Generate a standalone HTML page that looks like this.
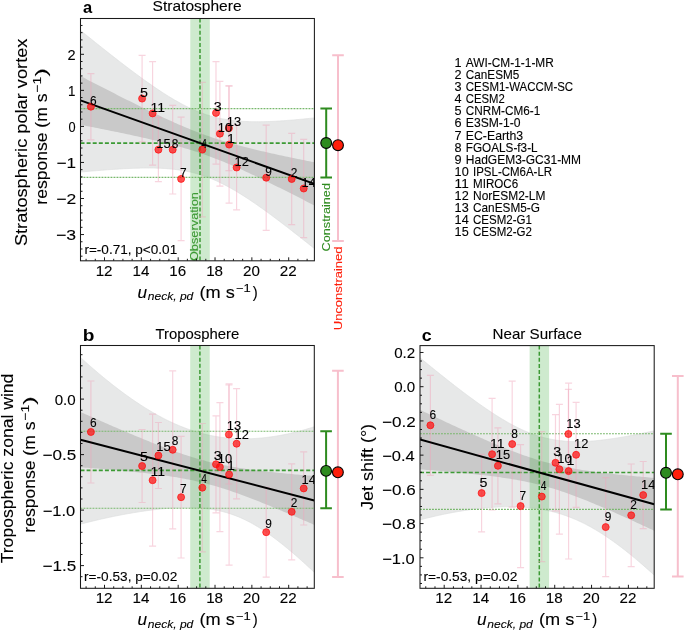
<!DOCTYPE html><html><head><meta charset="utf-8"><style>html,body{margin:0;padding:0;background:#fff;}svg{display:block;will-change:transform;}</style></head><body>
<svg width="685" height="631" viewBox="0 0 685 631" font-family='"Liberation Sans", sans-serif'>
<rect width="685" height="631" fill="#fff"/>
<clipPath id="clipa"><rect x="80.5" y="18.5" width="233.89999999999998" height="242.3"/></clipPath>
<g clip-path="url(#clipa)">
<polygon points="79.50,29.58 81.48,31.19 83.46,32.80 85.45,34.40 87.43,36.01 89.41,37.61 91.39,39.20 93.38,40.80 95.36,42.38 97.34,43.97 99.32,45.55 101.31,47.13 103.29,48.71 105.27,50.28 107.25,51.85 109.24,53.41 111.22,54.97 113.20,56.52 115.18,58.07 117.16,59.61 119.15,61.14 121.13,62.67 123.11,64.20 125.09,65.71 127.08,67.22 129.06,68.72 131.04,70.22 133.02,71.70 135.01,73.18 136.99,74.65 138.97,76.11 140.95,77.56 142.94,78.99 144.92,80.42 146.90,81.83 148.88,83.24 150.86,84.62 152.85,86.00 154.83,87.36 156.81,88.70 158.79,90.03 160.78,91.35 162.76,92.64 164.74,93.91 166.72,95.17 168.71,96.40 170.69,97.62 172.67,98.81 174.65,99.97 176.64,101.12 178.62,102.23 180.60,103.32 182.58,104.38 184.56,105.42 186.55,106.42 188.53,107.39 190.51,108.33 192.49,109.24 194.48,110.12 196.46,110.96 198.44,111.77 200.42,112.55 202.41,113.28 204.39,113.99 206.37,114.66 208.35,115.29 210.34,115.89 212.32,116.46 214.30,116.99 216.28,117.49 218.26,117.95 220.25,118.38 222.23,118.79 224.21,119.16 226.19,119.50 228.18,119.81 230.16,120.09 232.14,120.35 234.12,120.58 236.11,120.79 238.09,120.97 240.07,121.14 242.05,121.28 244.04,121.39 246.02,121.49 248.00,121.57 249.98,121.64 251.96,121.68 253.95,121.71 255.93,121.73 257.91,121.73 259.89,121.71 261.88,121.68 263.86,121.64 265.84,121.59 267.82,121.53 269.81,121.46 271.79,121.37 273.77,121.28 275.75,121.18 277.74,121.06 279.72,120.95 281.70,120.82 283.68,120.68 285.66,120.54 287.65,120.39 289.63,120.24 291.61,120.08 293.59,119.91 295.58,119.74 297.56,119.56 299.54,119.38 301.52,119.19 303.51,119.00 305.49,118.80 307.47,118.60 309.45,118.40 311.44,118.19 313.42,117.98 315.40,117.76 315.40,249.42 313.42,247.83 311.44,246.25 309.45,244.67 307.47,243.09 305.49,241.51 303.51,239.94 301.52,238.37 299.54,236.81 297.56,235.25 295.58,233.70 293.59,232.15 291.61,230.60 289.63,229.06 287.65,227.53 285.66,226.00 283.68,224.48 281.70,222.97 279.72,221.46 277.74,219.96 275.75,218.47 273.77,216.99 271.79,215.52 269.81,214.05 267.82,212.60 265.84,211.16 263.86,209.73 261.88,208.31 259.89,206.90 257.91,205.50 255.93,204.12 253.95,202.76 251.96,201.41 249.98,200.08 248.00,198.76 246.02,197.46 244.04,196.18 242.05,194.92 240.07,193.69 238.09,192.47 236.11,191.28 234.12,190.11 232.14,188.96 230.16,187.85 228.18,186.76 226.19,185.69 224.21,184.66 222.23,183.66 220.25,182.69 218.26,181.74 216.28,180.84 214.30,179.96 212.32,179.12 210.34,178.31 208.35,177.54 206.37,176.80 204.39,176.10 202.41,175.43 200.42,174.79 198.44,174.19 196.46,173.62 194.48,173.09 192.49,172.59 190.51,172.12 188.53,171.68 186.55,171.27 184.56,170.90 182.58,170.55 180.60,170.23 178.62,169.93 176.64,169.66 174.65,169.42 172.67,169.20 170.69,169.00 168.71,168.82 166.72,168.67 164.74,168.53 162.76,168.41 160.78,168.31 158.79,168.23 156.81,168.16 154.83,168.11 152.85,168.07 150.86,168.05 148.88,168.04 146.90,168.04 144.92,168.05 142.94,168.08 140.95,168.11 138.97,168.15 136.99,168.21 135.01,168.27 133.02,168.34 131.04,168.42 129.06,168.51 127.08,168.60 125.09,168.70 123.11,168.80 121.13,168.92 119.15,169.03 117.16,169.16 115.18,169.28 113.20,169.42 111.22,169.55 109.24,169.69 107.25,169.84 105.27,169.99 103.29,170.14 101.31,170.30 99.32,170.46 97.34,170.62 95.36,170.79 93.38,170.95 91.39,171.12 89.41,171.30 87.43,171.47 85.45,171.65 83.46,171.83 81.48,172.01 79.50,172.19" fill="#e7e8e8" stroke="#dcdddd" stroke-width="0.6"/>
<polygon points="79.50,75.54 81.48,76.56 83.46,77.59 85.45,78.62 87.43,79.64 89.41,80.67 91.39,81.69 93.38,82.71 95.36,83.73 97.34,84.75 99.32,85.77 101.31,86.79 103.29,87.81 105.27,88.82 107.25,89.84 109.24,90.85 111.22,91.86 113.20,92.87 115.18,93.87 117.16,94.88 119.15,95.88 121.13,96.89 123.11,97.88 125.09,98.88 127.08,99.88 129.06,100.87 131.04,101.86 133.02,102.85 135.01,103.83 136.99,104.81 138.97,105.79 140.95,106.77 142.94,107.74 144.92,108.71 146.90,109.67 148.88,110.63 150.86,111.59 152.85,112.54 154.83,113.49 156.81,114.43 158.79,115.37 160.78,116.30 162.76,117.22 164.74,118.14 166.72,119.06 168.71,119.96 170.69,120.86 172.67,121.75 174.65,122.64 176.64,123.51 178.62,124.38 180.60,125.24 182.58,126.08 184.56,126.92 186.55,127.75 188.53,128.57 190.51,129.38 192.49,130.17 194.48,130.96 196.46,131.73 198.44,132.49 200.42,133.24 202.41,133.98 204.39,134.70 206.37,135.41 208.35,136.11 210.34,136.80 212.32,137.48 214.30,138.14 216.28,138.79 218.26,139.43 220.25,140.06 222.23,140.67 224.21,141.28 226.19,141.87 228.18,142.45 230.16,143.03 232.14,143.59 234.12,144.15 236.11,144.69 238.09,145.23 240.07,145.76 242.05,146.28 244.04,146.80 246.02,147.30 248.00,147.80 249.98,148.30 251.96,148.79 253.95,149.27 255.93,149.74 257.91,150.22 259.89,150.68 261.88,151.14 263.86,151.60 265.84,152.05 267.82,152.50 269.81,152.95 271.79,153.39 273.77,153.83 275.75,154.27 277.74,154.70 279.72,155.13 281.70,155.55 283.68,155.98 285.66,156.40 287.65,156.82 289.63,157.23 291.61,157.65 293.59,158.06 295.58,158.47 297.56,158.88 299.54,159.29 301.52,159.69 303.51,160.10 305.49,160.50 307.47,160.90 309.45,161.30 311.44,161.70 313.42,162.10 315.40,162.49 315.40,205.97 313.42,204.95 311.44,203.93 309.45,202.92 307.47,201.90 305.49,200.89 303.51,199.87 301.52,198.86 299.54,197.85 297.56,196.85 295.58,195.84 293.59,194.84 291.61,193.83 289.63,192.83 287.65,191.84 285.66,190.84 283.68,189.85 281.70,188.86 279.72,187.87 277.74,186.88 275.75,185.90 273.77,184.92 271.79,183.95 269.81,182.97 267.82,182.00 265.84,181.04 263.86,180.08 261.88,179.12 259.89,178.17 257.91,177.22 255.93,176.28 253.95,175.34 251.96,174.41 249.98,173.48 248.00,172.56 246.02,171.64 244.04,170.74 242.05,169.84 240.07,168.94 238.09,168.06 236.11,167.18 234.12,166.31 232.14,165.45 230.16,164.60 228.18,163.76 226.19,162.93 224.21,162.11 222.23,161.30 220.25,160.50 218.26,159.71 216.28,158.94 214.30,158.17 212.32,157.42 210.34,156.68 208.35,155.95 206.37,155.24 204.39,154.54 202.41,153.85 200.42,153.17 198.44,152.50 196.46,151.85 194.48,151.21 192.49,150.58 190.51,149.96 188.53,149.35 186.55,148.76 184.56,148.17 182.58,147.59 180.60,147.03 178.62,146.47 176.64,145.92 174.65,145.38 172.67,144.85 170.69,144.33 168.71,143.81 166.72,143.30 164.74,142.80 162.76,142.31 160.78,141.82 158.79,141.33 156.81,140.86 154.83,140.38 152.85,139.92 150.86,139.45 148.88,138.99 146.90,138.54 144.92,138.09 142.94,137.64 140.95,137.20 138.97,136.76 136.99,136.33 135.01,135.89 133.02,135.46 131.04,135.04 129.06,134.61 127.08,134.19 125.09,133.77 123.11,133.35 121.13,132.94 119.15,132.52 117.16,132.11 115.18,131.70 113.20,131.30 111.22,130.89 109.24,130.49 107.25,130.08 105.27,129.68 103.29,129.28 101.31,128.88 99.32,128.49 97.34,128.09 95.36,127.70 93.38,127.30 91.39,126.91 89.41,126.52 87.43,126.13 85.45,125.74 83.46,125.35 81.48,124.96 79.50,124.58" fill="#c9c9c9"/>
<rect x="190.30" y="18.5" width="19.5" height="242.3" fill="rgba(60,170,60,0.25)"/>
<line x1="200.00" y1="18.5" x2="200.00" y2="260.8" stroke="#3c9a34" stroke-width="1.5" stroke-dasharray="4 2.1"/>
<line x1="80.5" y1="143.2" x2="314.4" y2="143.2" stroke="#3c9a34" stroke-width="1.7" stroke-dasharray="4 2.1"/>
<line x1="80.5" y1="108.6" x2="314.4" y2="108.6" stroke="#78b86c" stroke-width="1.1" stroke-dasharray="1.9 1.1"/>
<line x1="80.5" y1="177.4" x2="314.4" y2="177.4" stroke="#78b86c" stroke-width="1.1" stroke-dasharray="1.9 1.1"/>
<path d="M229.10,86.00V203.20M225.60,86.00h7M225.60,203.20h7" stroke="rgba(240,165,186,0.47)" stroke-width="1.2" fill="none"/>
<path d="M291.70,133.40V224.60M288.20,133.40h7M288.20,224.60h7" stroke="rgba(240,165,186,0.47)" stroke-width="1.2" fill="none"/>
<path d="M216.00,61.70V164.10M212.50,61.70h7M212.50,164.10h7" stroke="rgba(240,165,186,0.47)" stroke-width="1.2" fill="none"/>
<path d="M202.30,82.40V216.80M198.80,82.40h7M198.80,216.80h7" stroke="rgba(240,165,186,0.47)" stroke-width="1.2" fill="none"/>
<path d="M142.10,55.40V141.80M138.60,55.40h7M138.60,141.80h7" stroke="rgba(240,165,186,0.47)" stroke-width="1.2" fill="none"/>
<path d="M90.90,73.60V139.80M87.40,73.60h7M87.40,139.80h7" stroke="rgba(240,165,186,0.47)" stroke-width="1.2" fill="none"/>
<path d="M181.10,117.10V240.70M177.60,117.10h7M177.60,240.70h7" stroke="rgba(240,165,186,0.47)" stroke-width="1.2" fill="none"/>
<path d="M172.70,105.40V194.00M169.20,105.40h7M169.20,194.00h7" stroke="rgba(240,165,186,0.47)" stroke-width="1.2" fill="none"/>
<path d="M266.20,125.10V230.30M262.70,125.10h7M262.70,230.30h7" stroke="rgba(240,165,186,0.47)" stroke-width="1.2" fill="none"/>
<path d="M219.90,81.30V186.10M216.40,81.30h7M216.40,186.10h7" stroke="rgba(240,165,186,0.47)" stroke-width="1.2" fill="none"/>
<path d="M152.60,61.70V165.10M149.10,61.70h7M149.10,165.10h7" stroke="rgba(240,165,186,0.47)" stroke-width="1.2" fill="none"/>
<path d="M236.60,125.20V209.80M233.10,125.20h7M233.10,209.80h7" stroke="rgba(240,165,186,0.47)" stroke-width="1.2" fill="none"/>
<path d="M228.90,85.80V170.60M225.40,85.80h7M225.40,170.60h7" stroke="rgba(240,165,186,0.47)" stroke-width="1.2" fill="none"/>
<path d="M303.70,139.30V237.70M300.20,139.30h7M300.20,237.70h7" stroke="rgba(240,165,186,0.47)" stroke-width="1.2" fill="none"/>
<path d="M158.40,117.70V181.70M154.90,117.70h7M154.90,181.70h7" stroke="rgba(240,165,186,0.47)" stroke-width="1.2" fill="none"/>
<line x1="80.50" y1="100.41" x2="314.40" y2="183.87" stroke="#000" stroke-width="2"/>
<circle cx="229.10" cy="144.60" r="3.5" fill="rgba(255,10,10,0.7)" stroke="rgba(255,10,10,0.7)" stroke-width="1"/>
<circle cx="291.70" cy="179.00" r="3.5" fill="rgba(255,10,10,0.7)" stroke="rgba(255,10,10,0.7)" stroke-width="1"/>
<circle cx="216.00" cy="112.90" r="3.5" fill="rgba(255,10,10,0.7)" stroke="rgba(255,10,10,0.7)" stroke-width="1"/>
<circle cx="202.30" cy="149.60" r="3.5" fill="rgba(255,10,10,0.7)" stroke="rgba(255,10,10,0.7)" stroke-width="1"/>
<circle cx="142.10" cy="98.60" r="3.5" fill="rgba(255,10,10,0.7)" stroke="rgba(255,10,10,0.7)" stroke-width="1"/>
<circle cx="90.90" cy="106.70" r="3.5" fill="rgba(255,10,10,0.7)" stroke="rgba(255,10,10,0.7)" stroke-width="1"/>
<circle cx="181.10" cy="178.90" r="3.5" fill="rgba(255,10,10,0.7)" stroke="rgba(255,10,10,0.7)" stroke-width="1"/>
<circle cx="172.70" cy="149.70" r="3.5" fill="rgba(255,10,10,0.7)" stroke="rgba(255,10,10,0.7)" stroke-width="1"/>
<circle cx="266.20" cy="177.70" r="3.5" fill="rgba(255,10,10,0.7)" stroke="rgba(255,10,10,0.7)" stroke-width="1"/>
<circle cx="219.90" cy="133.70" r="3.5" fill="rgba(255,10,10,0.7)" stroke="rgba(255,10,10,0.7)" stroke-width="1"/>
<circle cx="152.60" cy="113.40" r="3.5" fill="rgba(255,10,10,0.7)" stroke="rgba(255,10,10,0.7)" stroke-width="1"/>
<circle cx="236.60" cy="167.50" r="3.5" fill="rgba(255,10,10,0.7)" stroke="rgba(255,10,10,0.7)" stroke-width="1"/>
<circle cx="228.90" cy="128.20" r="3.5" fill="rgba(255,10,10,0.7)" stroke="rgba(255,10,10,0.7)" stroke-width="1"/>
<circle cx="303.70" cy="188.50" r="3.5" fill="rgba(255,10,10,0.7)" stroke="rgba(255,10,10,0.7)" stroke-width="1"/>
<circle cx="158.40" cy="149.70" r="3.5" fill="rgba(255,10,10,0.7)" stroke="rgba(255,10,10,0.7)" stroke-width="1"/>
<text x="226.90" y="142.80" font-size="11.9" fill="#000" textLength="7.95" lengthAdjust="spacingAndGlyphs" stroke="#000" stroke-width="0.1">1</text>
<text x="290.70" y="177.20" font-size="11.9" fill="#000" textLength="6.62" lengthAdjust="spacingAndGlyphs" stroke="#000" stroke-width="0.1">2</text>
<text x="213.80" y="111.10" font-size="11.9" fill="#000" textLength="7.95" lengthAdjust="spacingAndGlyphs" stroke="#000" stroke-width="0.1">3</text>
<text x="201.30" y="147.80" font-size="11.9" fill="#000" textLength="5.68" lengthAdjust="spacingAndGlyphs" stroke="#000" stroke-width="0.1">4</text>
<text x="139.90" y="96.80" font-size="11.9" fill="#000" textLength="7.95" lengthAdjust="spacingAndGlyphs" stroke="#000" stroke-width="0.1">5</text>
<text x="89.90" y="104.90" font-size="11.9" fill="#000" textLength="6.62" lengthAdjust="spacingAndGlyphs" stroke="#000" stroke-width="0.1">6</text>
<text x="180.10" y="177.10" font-size="11.9" fill="#000" textLength="6.62" lengthAdjust="spacingAndGlyphs" stroke="#000" stroke-width="0.1">7</text>
<text x="171.70" y="147.90" font-size="11.9" fill="#000" textLength="6.62" lengthAdjust="spacingAndGlyphs" stroke="#000" stroke-width="0.1">8</text>
<text x="265.20" y="175.90" font-size="11.9" fill="#000" textLength="6.62" lengthAdjust="spacingAndGlyphs" stroke="#000" stroke-width="0.1">9</text>
<text x="217.82" y="131.90" font-size="11.9" fill="#000" textLength="14.34" lengthAdjust="spacingAndGlyphs" stroke="#000" stroke-width="0.1">10</text>
<text x="150.42" y="111.60" font-size="11.9" fill="#000" textLength="14.59" lengthAdjust="spacingAndGlyphs" stroke="#000" stroke-width="0.1">11</text>
<text x="234.52" y="165.70" font-size="11.9" fill="#000" textLength="14.34" lengthAdjust="spacingAndGlyphs" stroke="#000" stroke-width="0.1">12</text>
<text x="226.82" y="126.40" font-size="11.9" fill="#000" textLength="14.34" lengthAdjust="spacingAndGlyphs" stroke="#000" stroke-width="0.1">13</text>
<text x="301.62" y="186.70" font-size="11.9" fill="#000" textLength="14.34" lengthAdjust="spacingAndGlyphs" stroke="#000" stroke-width="0.1">14</text>
<text x="156.32" y="147.90" font-size="11.9" fill="#000" textLength="14.34" lengthAdjust="spacingAndGlyphs" stroke="#000" stroke-width="0.1">15</text>
</g>
<text x="84.40" y="254.20" font-size="12.3" fill="#000" textLength="92.81" lengthAdjust="spacingAndGlyphs" stroke="#000" stroke-width="0.1">r=-0.71, p&lt;0.01</text>
<text x="-261.10" y="0" font-size="11.6" fill="#3c9a34" textLength="68.97" lengthAdjust="spacingAndGlyphs" stroke="#3c9a34" stroke-width="0.1" transform="translate(198.40,0) rotate(-90)">Observation</text>
<path d="M86.08,260.8v-2.0M95.29,260.8v-2.0M104.50,260.8v-3.5M113.71,260.8v-2.0M122.92,260.8v-2.0M132.13,260.8v-2.0M141.34,260.8v-3.5M150.55,260.8v-2.0M159.76,260.8v-2.0M168.97,260.8v-2.0M178.18,260.8v-3.5M187.39,260.8v-2.0M196.60,260.8v-2.0M205.81,260.8v-2.0M215.02,260.8v-3.5M224.23,260.8v-2.0M233.44,260.8v-2.0M242.65,260.8v-2.0M251.86,260.8v-3.5M261.07,260.8v-2.0M270.28,260.8v-2.0M279.49,260.8v-2.0M288.70,260.8v-3.5M297.91,260.8v-2.0M307.12,260.8v-2.0M80.5,256.18h2.0M80.5,248.97h2.0M80.5,241.76h2.0M80.5,234.55h3.5M80.5,227.34h2.0M80.5,220.13h2.0M80.5,212.92h2.0M80.5,205.71h2.0M80.5,198.50h3.5M80.5,191.29h2.0M80.5,184.08h2.0M80.5,176.87h2.0M80.5,169.66h2.0M80.5,162.45h3.5M80.5,155.24h2.0M80.5,148.03h2.0M80.5,140.82h2.0M80.5,133.61h2.0M80.5,126.40h3.5M80.5,119.19h2.0M80.5,111.98h2.0M80.5,104.77h2.0M80.5,97.56h2.0M80.5,90.35h3.5M80.5,83.14h2.0M80.5,75.93h2.0M80.5,68.72h2.0M80.5,61.51h2.0M80.5,54.30h3.5M80.5,47.09h2.0M80.5,39.88h2.0M80.5,32.67h2.0M80.5,25.46h2.0" stroke="#000" stroke-width="0.9" fill="none"/>
<rect x="80.5" y="18.5" width="233.89999999999998" height="242.3" fill="none" stroke="#1a1a1a" stroke-width="1.05"/>
<text x="95.66" y="275.80" font-size="14.6" fill="#000" textLength="16.88" lengthAdjust="spacingAndGlyphs" stroke="#000" stroke-width="0.1">12</text>
<text x="132.50" y="275.80" font-size="14.6" fill="#000" textLength="16.88" lengthAdjust="spacingAndGlyphs" stroke="#000" stroke-width="0.1">14</text>
<text x="169.34" y="275.80" font-size="14.6" fill="#000" textLength="16.88" lengthAdjust="spacingAndGlyphs" stroke="#000" stroke-width="0.1">16</text>
<text x="206.18" y="275.80" font-size="14.6" fill="#000" textLength="16.88" lengthAdjust="spacingAndGlyphs" stroke="#000" stroke-width="0.1">18</text>
<text x="243.02" y="275.80" font-size="14.6" fill="#000" textLength="16.88" lengthAdjust="spacingAndGlyphs" stroke="#000" stroke-width="0.1">20</text>
<text x="279.86" y="275.80" font-size="14.6" fill="#000" textLength="16.88" lengthAdjust="spacingAndGlyphs" stroke="#000" stroke-width="0.1">22</text>
<text x="56.09" y="240.25" font-size="14.6" fill="#000" textLength="20.08" lengthAdjust="spacingAndGlyphs" stroke="#000" stroke-width="0.1">−3</text>
<text x="56.20" y="204.20" font-size="14.6" fill="#000" textLength="19.97" lengthAdjust="spacingAndGlyphs" stroke="#000" stroke-width="0.1">−2</text>
<text x="56.63" y="168.15" font-size="14.6" fill="#000" textLength="19.52" lengthAdjust="spacingAndGlyphs" stroke="#000" stroke-width="0.1">−1</text>
<text x="68.40" y="132.10" font-size="14.6" fill="#000" textLength="7.11" lengthAdjust="spacingAndGlyphs" stroke="#000" stroke-width="0.1">0</text>
<text x="68.09" y="96.05" font-size="14.6" fill="#000" textLength="7.43" lengthAdjust="spacingAndGlyphs" stroke="#000" stroke-width="0.1">1</text>
<text x="67.40" y="60.00" font-size="14.6" fill="#000" textLength="8.12" lengthAdjust="spacingAndGlyphs" stroke="#000" stroke-width="0.1">2</text>
<text x="152.60" y="11.40" font-size="14.2" fill="#000" textLength="88.95" lengthAdjust="spacingAndGlyphs" stroke="#000" stroke-width="0.1">Stratosphere</text>
<text x="83.10" y="13.40" font-size="17.2" fill="#000" textLength="9.18" lengthAdjust="spacingAndGlyphs" font-weight="bold">a</text>
<text x="137.54" y="297.70" font-size="16.2" fill="#000" textLength="9.58" lengthAdjust="spacingAndGlyphs" stroke="#000" stroke-width="0.1" font-style="italic">u</text>
<text x="147.80" y="300.20" font-size="11.4" fill="#000" textLength="45.51" lengthAdjust="spacingAndGlyphs" stroke="#000" stroke-width="0.1" font-style="italic">neck, pd</text>
<text x="199.48" y="297.70" font-size="16.2" fill="#000" textLength="35.35" lengthAdjust="spacingAndGlyphs" stroke="#000" stroke-width="0.1">(m s</text>
<text x="235.90" y="292.00" font-size="11.4" fill="#000" textLength="14.80" lengthAdjust="spacingAndGlyphs" stroke="#000" stroke-width="0.1">−1</text>
<text x="252.70" y="297.70" font-size="16.2" fill="#000" textLength="4.96" lengthAdjust="spacingAndGlyphs" stroke="#000" stroke-width="0.1">)</text>
<path d="M338.0,55.2V241.0M332.2,55.2h11.6M332.2,241.0h11.6" stroke="#f7bfcc" stroke-width="2" fill="none"/>
<path d="M326.2,108.6V177.4M320.4,108.6h11.6M320.4,177.4h11.6" stroke="#2e8b1f" stroke-width="2.0" fill="none"/>
<circle cx="326.2" cy="143.0" r="5.4" fill="#2e8b1f" stroke="#000" stroke-width="1.1"/>
<circle cx="338.0" cy="145.2" r="5.4" fill="#ff1e0a" stroke="#000" stroke-width="1.1"/>
<text x="-246.10" y="0" font-size="16.6" fill="#000" textLength="207.58" lengthAdjust="spacingAndGlyphs" stroke="#000" stroke-width="0.1" transform="translate(26.60,0) rotate(-90)">Stratospheric polar vortex</text>
<text x="-204.66" y="0" font-size="16.6" fill="#000" textLength="111.11" lengthAdjust="spacingAndGlyphs" stroke="#000" stroke-width="0.1" transform="translate(46.80,0) rotate(-90)">response (m s</text>
<text x="-92.40" y="0" font-size="11.6" fill="#000" textLength="15.56" lengthAdjust="spacingAndGlyphs" stroke="#000" stroke-width="0.1" transform="translate(40.70,0) rotate(-90)">−1</text>
<text x="-76.50" y="0" font-size="16.6" fill="#000" textLength="8.41" lengthAdjust="spacingAndGlyphs" stroke="#000" stroke-width="0.1" transform="translate(46.80,0) rotate(-90)">)</text>
<clipPath id="clipb"><rect x="80.5" y="345.5" width="233.8" height="242.79999999999995"/></clipPath>
<g clip-path="url(#clipb)">
<polygon points="79.50,356.51 81.48,358.33 83.46,360.13 85.44,361.91 87.43,363.68 89.41,365.43 91.39,367.17 93.37,368.89 95.35,370.60 97.33,372.29 99.32,373.97 101.30,375.63 103.28,377.27 105.26,378.90 107.24,380.51 109.22,382.10 111.20,383.68 113.19,385.24 115.17,386.78 117.15,388.30 119.13,389.81 121.11,391.30 123.09,392.77 125.07,394.22 127.06,395.65 129.04,397.06 131.02,398.46 133.00,399.83 134.98,401.19 136.96,402.52 138.95,403.84 140.93,405.13 142.91,406.40 144.89,407.65 146.87,408.88 148.85,410.09 150.83,411.28 152.82,412.44 154.80,413.58 156.78,414.70 158.76,415.79 160.74,416.87 162.72,417.91 164.71,418.94 166.69,419.94 168.67,420.91 170.65,421.86 172.63,422.79 174.61,423.69 176.59,424.56 178.58,425.41 180.56,426.23 182.54,427.03 184.52,427.80 186.50,428.55 188.48,429.26 190.46,429.96 192.45,430.62 194.43,431.26 196.41,431.87 198.39,432.46 200.37,433.02 202.35,433.55 204.34,434.05 206.32,434.53 208.30,434.99 210.28,435.41 212.26,435.81 214.24,436.19 216.22,436.54 218.21,436.86 220.19,437.16 222.17,437.43 224.15,437.68 226.13,437.90 228.11,438.10 230.09,438.27 232.08,438.42 234.06,438.54 236.04,438.65 238.02,438.72 240.00,438.78 241.98,438.81 243.97,438.82 245.95,438.81 247.93,438.78 249.91,438.72 251.89,438.64 253.87,438.55 255.85,438.43 257.84,438.29 259.82,438.13 261.80,437.95 263.78,437.75 265.76,437.53 267.74,437.30 269.73,437.04 271.71,436.76 273.69,436.47 275.67,436.16 277.65,435.83 279.63,435.48 281.61,435.12 283.60,434.74 285.58,434.34 287.56,433.92 289.54,433.49 291.52,433.04 293.50,432.57 295.48,432.09 297.47,431.59 299.45,431.08 301.43,430.55 303.41,430.01 305.39,429.45 307.37,428.87 309.36,428.28 311.34,427.68 313.32,427.06 315.30,426.42 315.30,573.30 313.32,571.44 311.34,569.59 309.36,567.75 307.37,565.92 305.39,564.11 303.41,562.32 301.43,560.54 299.45,558.78 297.47,557.03 295.48,555.30 293.50,553.59 291.52,551.89 289.54,550.22 287.56,548.57 285.58,546.93 283.60,545.32 281.61,543.73 279.63,542.17 277.65,540.63 275.67,539.12 273.69,537.63 271.71,536.17 269.73,534.74 267.74,533.34 265.76,531.98 263.78,530.64 261.80,529.34 259.82,528.07 257.84,526.84 255.85,525.65 253.87,524.49 251.89,523.37 249.91,522.29 247.93,521.25 245.95,520.25 243.97,519.30 241.98,518.38 240.00,517.51 238.02,516.68 236.04,515.89 234.06,515.14 232.08,514.43 230.09,513.76 228.11,513.14 226.13,512.55 224.15,512.00 222.17,511.49 220.19,511.02 218.21,510.59 216.22,510.18 214.24,509.82 212.26,509.48 210.28,509.18 208.30,508.91 206.32,508.66 204.34,508.45 202.35,508.26 200.37,508.10 198.39,507.96 196.41,507.85 194.43,507.76 192.45,507.69 190.46,507.65 188.48,507.62 186.50,507.62 184.52,507.63 182.54,507.66 180.56,507.71 178.58,507.78 176.59,507.86 174.61,507.96 172.63,508.07 170.65,508.19 168.67,508.33 166.69,508.49 164.71,508.65 162.72,508.83 160.74,509.03 158.76,509.23 156.78,509.44 154.80,509.67 152.82,509.91 150.83,510.15 148.85,510.41 146.87,510.68 144.89,510.95 142.91,511.24 140.93,511.53 138.95,511.84 136.96,512.15 134.98,512.47 133.00,512.80 131.02,513.14 129.04,513.49 127.06,513.84 125.07,514.20 123.09,514.57 121.11,514.95 119.13,515.33 117.15,515.72 115.17,516.12 113.19,516.53 111.20,516.94 109.22,517.36 107.24,517.79 105.26,518.22 103.28,518.66 101.30,519.10 99.32,519.56 97.33,520.01 95.35,520.48 93.37,520.95 91.39,521.43 89.41,521.91 87.43,522.40 85.44,522.89 83.46,523.39 81.48,523.90 79.50,524.41" fill="#e7e8e8" stroke="#dcdddd" stroke-width="0.6"/>
<polygon points="79.50,411.62 81.48,412.49 83.46,413.37 85.44,414.25 87.43,415.12 89.41,416.00 91.39,416.87 93.37,417.74 95.35,418.61 97.33,419.48 99.32,420.35 101.30,421.22 103.28,422.08 105.26,422.95 107.24,423.81 109.22,424.67 111.20,425.53 113.19,426.38 115.17,427.24 117.15,428.09 119.13,428.94 121.11,429.79 123.09,430.64 125.07,431.48 127.06,432.32 129.04,433.16 131.02,433.99 133.00,434.83 134.98,435.66 136.96,436.48 138.95,437.30 140.93,438.12 142.91,438.94 144.89,439.75 146.87,440.56 148.85,441.36 150.83,442.15 152.82,442.95 154.80,443.73 156.78,444.51 158.76,445.29 160.74,446.06 162.72,446.82 164.71,447.58 166.69,448.32 168.67,449.06 170.65,449.80 172.63,450.52 174.61,451.23 176.59,451.94 178.58,452.64 180.56,453.32 182.54,454.00 184.52,454.66 186.50,455.31 188.48,455.95 190.46,456.58 192.45,457.20 194.43,457.80 196.41,458.39 198.39,458.97 200.37,459.53 202.35,460.08 204.34,460.61 206.32,461.13 208.30,461.64 210.28,462.13 212.26,462.61 214.24,463.08 216.22,463.53 218.21,463.97 220.19,464.39 222.17,464.80 224.15,465.20 226.13,465.59 228.11,465.97 230.09,466.33 232.08,466.68 234.06,467.02 236.04,467.36 238.02,467.68 240.00,467.99 241.98,468.30 243.97,468.59 245.95,468.88 247.93,469.16 249.91,469.44 251.89,469.70 253.87,469.96 255.85,470.22 257.84,470.47 259.82,470.71 261.80,470.95 263.78,471.18 265.76,471.40 267.74,471.63 269.73,471.85 271.71,472.06 273.69,472.27 275.67,472.48 277.65,472.68 279.63,472.88 281.61,473.08 283.60,473.27 285.58,473.46 287.56,473.65 289.54,473.84 291.52,474.02 293.50,474.20 295.48,474.38 297.47,474.56 299.45,474.73 301.43,474.91 303.41,475.08 305.39,475.25 307.37,475.41 309.36,475.58 311.34,475.74 313.32,475.91 315.30,476.07 315.30,525.32 313.32,524.45 311.34,523.59 309.36,522.72 307.37,521.86 305.39,520.99 303.41,520.13 301.43,519.27 299.45,518.42 297.47,517.56 295.48,516.71 293.50,515.86 291.52,515.01 289.54,514.16 287.56,513.32 285.58,512.48 283.60,511.64 281.61,510.80 279.63,509.97 277.65,509.14 275.67,508.31 273.69,507.49 271.71,506.67 269.73,505.85 267.74,505.04 265.76,504.24 263.78,503.43 261.80,502.64 259.82,501.84 257.84,501.06 255.85,500.27 253.87,499.50 251.89,498.73 249.91,497.96 247.93,497.21 245.95,496.46 243.97,495.72 241.98,494.98 240.00,494.26 238.02,493.54 236.04,492.83 234.06,492.14 232.08,491.45 230.09,490.77 228.11,490.11 226.13,489.45 224.15,488.81 222.17,488.18 220.19,487.56 218.21,486.95 216.22,486.36 214.24,485.78 212.26,485.22 210.28,484.67 208.30,484.13 206.32,483.61 204.34,483.10 202.35,482.60 200.37,482.12 198.39,481.65 196.41,481.20 194.43,480.76 192.45,480.33 190.46,479.92 188.48,479.52 186.50,479.13 184.52,478.75 182.54,478.39 180.56,478.03 178.58,477.69 176.59,477.35 174.61,477.03 172.63,476.71 170.65,476.41 168.67,476.11 166.69,475.82 164.71,475.54 162.72,475.26 160.74,474.99 158.76,474.73 156.78,474.48 154.80,474.23 152.82,473.99 150.83,473.75 148.85,473.52 146.87,473.29 144.89,473.06 142.91,472.84 140.93,472.63 138.95,472.42 136.96,472.21 134.98,472.01 133.00,471.81 131.02,471.61 129.04,471.41 127.06,471.22 125.07,471.03 123.09,470.85 121.11,470.66 119.13,470.48 117.15,470.30 115.17,470.13 113.19,469.95 111.20,469.78 109.22,469.61 107.24,469.44 105.26,469.27 103.28,469.10 101.30,468.94 99.32,468.77 97.33,468.61 95.35,468.45 93.37,468.29 91.39,468.13 89.41,467.98 87.43,467.82 85.44,467.67 83.46,467.51 81.48,467.36 79.50,467.21" fill="#c9c9c9"/>
<rect x="190.20" y="345.5" width="19.5" height="242.79999999999995" fill="rgba(60,170,60,0.25)"/>
<line x1="199.90" y1="345.5" x2="199.90" y2="588.3" stroke="#3c9a34" stroke-width="1.5" stroke-dasharray="4 2.1"/>
<line x1="80.5" y1="470.3" x2="314.3" y2="470.3" stroke="#3c9a34" stroke-width="1.7" stroke-dasharray="4 2.1"/>
<line x1="80.5" y1="431.3" x2="314.3" y2="431.3" stroke="#78b86c" stroke-width="1.1" stroke-dasharray="1.9 1.1"/>
<line x1="80.5" y1="508.2" x2="314.3" y2="508.2" stroke="#78b86c" stroke-width="1.1" stroke-dasharray="1.9 1.1"/>
<path d="M229.10,383.90V565.10M225.60,383.90h7M225.60,565.10h7" stroke="rgba(240,165,186,0.47)" stroke-width="1.2" fill="none"/>
<path d="M291.70,463.80V559.80M288.20,463.80h7M288.20,559.80h7" stroke="rgba(240,165,186,0.47)" stroke-width="1.2" fill="none"/>
<path d="M216.00,415.80V512.80M212.50,415.80h7M212.50,512.80h7" stroke="rgba(240,165,186,0.47)" stroke-width="1.2" fill="none"/>
<path d="M202.30,423.50V551.90M198.80,423.50h7M198.80,551.90h7" stroke="rgba(240,165,186,0.47)" stroke-width="1.2" fill="none"/>
<path d="M142.10,429.50V502.50M138.60,429.50h7M138.60,502.50h7" stroke="rgba(240,165,186,0.47)" stroke-width="1.2" fill="none"/>
<path d="M90.90,381.00V483.00M87.40,381.00h7M87.40,483.00h7" stroke="rgba(240,165,186,0.47)" stroke-width="1.2" fill="none"/>
<path d="M181.10,436.40V558.00M177.60,436.40h7M177.60,558.00h7" stroke="rgba(240,165,186,0.47)" stroke-width="1.2" fill="none"/>
<path d="M172.70,370.80V528.80M169.20,370.80h7M169.20,528.80h7" stroke="rgba(240,165,186,0.47)" stroke-width="1.2" fill="none"/>
<path d="M266.20,487.30V577.10M262.70,487.30h7M262.70,577.10h7" stroke="rgba(240,165,186,0.47)" stroke-width="1.2" fill="none"/>
<path d="M219.90,402.60V531.60M216.40,402.60h7M216.40,531.60h7" stroke="rgba(240,165,186,0.47)" stroke-width="1.2" fill="none"/>
<path d="M152.60,414.20V546.20M149.10,414.20h7M149.10,546.20h7" stroke="rgba(240,165,186,0.47)" stroke-width="1.2" fill="none"/>
<path d="M236.60,388.60V498.80M233.10,388.60h7M233.10,498.80h7" stroke="rgba(240,165,186,0.47)" stroke-width="1.2" fill="none"/>
<path d="M228.90,385.00V484.00M225.40,385.00h7M225.40,484.00h7" stroke="rgba(240,165,186,0.47)" stroke-width="1.2" fill="none"/>
<path d="M303.70,451.80V525.00M300.20,451.80h7M300.20,525.00h7" stroke="rgba(240,165,186,0.47)" stroke-width="1.2" fill="none"/>
<path d="M158.40,422.50V488.50M154.90,422.50h7M154.90,488.50h7" stroke="rgba(240,165,186,0.47)" stroke-width="1.2" fill="none"/>
<line x1="80.50" y1="439.67" x2="314.30" y2="500.44" stroke="#000" stroke-width="2"/>
<circle cx="229.10" cy="474.50" r="3.5" fill="rgba(255,10,10,0.7)" stroke="rgba(255,10,10,0.7)" stroke-width="1"/>
<circle cx="291.70" cy="511.80" r="3.5" fill="rgba(255,10,10,0.7)" stroke="rgba(255,10,10,0.7)" stroke-width="1"/>
<circle cx="216.00" cy="464.30" r="3.5" fill="rgba(255,10,10,0.7)" stroke="rgba(255,10,10,0.7)" stroke-width="1"/>
<circle cx="202.30" cy="487.70" r="3.5" fill="rgba(255,10,10,0.7)" stroke="rgba(255,10,10,0.7)" stroke-width="1"/>
<circle cx="142.10" cy="466.00" r="3.5" fill="rgba(255,10,10,0.7)" stroke="rgba(255,10,10,0.7)" stroke-width="1"/>
<circle cx="90.90" cy="432.00" r="3.5" fill="rgba(255,10,10,0.7)" stroke="rgba(255,10,10,0.7)" stroke-width="1"/>
<circle cx="181.10" cy="497.20" r="3.5" fill="rgba(255,10,10,0.7)" stroke="rgba(255,10,10,0.7)" stroke-width="1"/>
<circle cx="172.70" cy="449.80" r="3.5" fill="rgba(255,10,10,0.7)" stroke="rgba(255,10,10,0.7)" stroke-width="1"/>
<circle cx="266.20" cy="532.20" r="3.5" fill="rgba(255,10,10,0.7)" stroke="rgba(255,10,10,0.7)" stroke-width="1"/>
<circle cx="219.90" cy="467.10" r="3.5" fill="rgba(255,10,10,0.7)" stroke="rgba(255,10,10,0.7)" stroke-width="1"/>
<circle cx="152.60" cy="480.20" r="3.5" fill="rgba(255,10,10,0.7)" stroke="rgba(255,10,10,0.7)" stroke-width="1"/>
<circle cx="236.60" cy="443.70" r="3.5" fill="rgba(255,10,10,0.7)" stroke="rgba(255,10,10,0.7)" stroke-width="1"/>
<circle cx="228.90" cy="434.50" r="3.5" fill="rgba(255,10,10,0.7)" stroke="rgba(255,10,10,0.7)" stroke-width="1"/>
<circle cx="303.70" cy="488.40" r="3.5" fill="rgba(255,10,10,0.7)" stroke="rgba(255,10,10,0.7)" stroke-width="1"/>
<circle cx="158.40" cy="455.50" r="3.5" fill="rgba(255,10,10,0.7)" stroke="rgba(255,10,10,0.7)" stroke-width="1"/>
<text x="226.90" y="469.90" font-size="11.9" fill="#000" textLength="7.95" lengthAdjust="spacingAndGlyphs" stroke="#000" stroke-width="0.1">1</text>
<text x="290.70" y="507.20" font-size="11.9" fill="#000" textLength="6.62" lengthAdjust="spacingAndGlyphs" stroke="#000" stroke-width="0.1">2</text>
<text x="213.80" y="459.70" font-size="11.9" fill="#000" textLength="7.95" lengthAdjust="spacingAndGlyphs" stroke="#000" stroke-width="0.1">3</text>
<text x="201.30" y="483.10" font-size="11.9" fill="#000" textLength="5.68" lengthAdjust="spacingAndGlyphs" stroke="#000" stroke-width="0.1">4</text>
<text x="139.90" y="461.40" font-size="11.9" fill="#000" textLength="7.95" lengthAdjust="spacingAndGlyphs" stroke="#000" stroke-width="0.1">5</text>
<text x="89.90" y="427.40" font-size="11.9" fill="#000" textLength="6.62" lengthAdjust="spacingAndGlyphs" stroke="#000" stroke-width="0.1">6</text>
<text x="180.10" y="492.60" font-size="11.9" fill="#000" textLength="6.62" lengthAdjust="spacingAndGlyphs" stroke="#000" stroke-width="0.1">7</text>
<text x="171.70" y="445.20" font-size="11.9" fill="#000" textLength="6.62" lengthAdjust="spacingAndGlyphs" stroke="#000" stroke-width="0.1">8</text>
<text x="265.20" y="527.60" font-size="11.9" fill="#000" textLength="6.62" lengthAdjust="spacingAndGlyphs" stroke="#000" stroke-width="0.1">9</text>
<text x="217.82" y="462.50" font-size="11.9" fill="#000" textLength="14.34" lengthAdjust="spacingAndGlyphs" stroke="#000" stroke-width="0.1">10</text>
<text x="150.42" y="475.60" font-size="11.9" fill="#000" textLength="14.59" lengthAdjust="spacingAndGlyphs" stroke="#000" stroke-width="0.1">11</text>
<text x="234.52" y="439.10" font-size="11.9" fill="#000" textLength="14.34" lengthAdjust="spacingAndGlyphs" stroke="#000" stroke-width="0.1">12</text>
<text x="226.82" y="429.90" font-size="11.9" fill="#000" textLength="14.34" lengthAdjust="spacingAndGlyphs" stroke="#000" stroke-width="0.1">13</text>
<text x="301.62" y="483.80" font-size="11.9" fill="#000" textLength="14.34" lengthAdjust="spacingAndGlyphs" stroke="#000" stroke-width="0.1">14</text>
<text x="156.32" y="450.90" font-size="11.9" fill="#000" textLength="14.34" lengthAdjust="spacingAndGlyphs" stroke="#000" stroke-width="0.1">15</text>
</g>
<text x="84.09" y="581.20" font-size="12.3" fill="#000" textLength="93.21" lengthAdjust="spacingAndGlyphs" stroke="#000" stroke-width="0.1">r=-0.53, p=0.02</text>
<path d="M86.08,588.3v-2.0M95.29,588.3v-2.0M104.50,588.3v-3.5M113.71,588.3v-2.0M122.92,588.3v-2.0M132.13,588.3v-2.0M141.34,588.3v-3.5M150.55,588.3v-2.0M159.76,588.3v-2.0M168.97,588.3v-2.0M178.18,588.3v-3.5M187.39,588.3v-2.0M196.60,588.3v-2.0M205.81,588.3v-2.0M215.02,588.3v-3.5M224.23,588.3v-2.0M233.44,588.3v-2.0M242.65,588.3v-2.0M251.86,588.3v-3.5M261.07,588.3v-2.0M270.28,588.3v-2.0M279.49,588.3v-2.0M288.70,588.3v-3.5M297.91,588.3v-2.0M307.12,588.3v-2.0M80.5,576.70h2.0M80.5,565.60h3.5M80.5,554.50h2.0M80.5,543.40h2.0M80.5,532.30h2.0M80.5,521.20h2.0M80.5,510.10h3.5M80.5,499.00h2.0M80.5,487.90h2.0M80.5,476.80h2.0M80.5,465.70h2.0M80.5,454.60h3.5M80.5,443.50h2.0M80.5,432.40h2.0M80.5,421.30h2.0M80.5,410.20h2.0M80.5,399.10h3.5M80.5,388.00h2.0M80.5,376.90h2.0M80.5,365.80h2.0M80.5,354.70h2.0" stroke="#000" stroke-width="0.9" fill="none"/>
<rect x="80.5" y="345.5" width="233.8" height="242.79999999999995" fill="none" stroke="#1a1a1a" stroke-width="1.05"/>
<text x="95.66" y="603.30" font-size="14.6" fill="#000" textLength="16.88" lengthAdjust="spacingAndGlyphs" stroke="#000" stroke-width="0.1">12</text>
<text x="132.50" y="603.30" font-size="14.6" fill="#000" textLength="16.88" lengthAdjust="spacingAndGlyphs" stroke="#000" stroke-width="0.1">14</text>
<text x="169.34" y="603.30" font-size="14.6" fill="#000" textLength="16.88" lengthAdjust="spacingAndGlyphs" stroke="#000" stroke-width="0.1">16</text>
<text x="206.18" y="603.30" font-size="14.6" fill="#000" textLength="16.88" lengthAdjust="spacingAndGlyphs" stroke="#000" stroke-width="0.1">18</text>
<text x="243.02" y="603.30" font-size="14.6" fill="#000" textLength="16.88" lengthAdjust="spacingAndGlyphs" stroke="#000" stroke-width="0.1">20</text>
<text x="279.86" y="603.30" font-size="14.6" fill="#000" textLength="16.88" lengthAdjust="spacingAndGlyphs" stroke="#000" stroke-width="0.1">22</text>
<text x="42.63" y="571.30" font-size="14.6" fill="#000" textLength="33.72" lengthAdjust="spacingAndGlyphs" stroke="#000" stroke-width="0.1">−1.5</text>
<text x="42.67" y="515.80" font-size="14.6" fill="#000" textLength="32.52" lengthAdjust="spacingAndGlyphs" stroke="#000" stroke-width="0.1">−1.0</text>
<text x="42.63" y="460.30" font-size="14.6" fill="#000" textLength="33.72" lengthAdjust="spacingAndGlyphs" stroke="#000" stroke-width="0.1">−0.5</text>
<text x="54.70" y="404.80" font-size="14.6" fill="#000" textLength="21.01" lengthAdjust="spacingAndGlyphs" stroke="#000" stroke-width="0.1">0.0</text>
<text x="155.50" y="338.90" font-size="14.2" fill="#000" textLength="83.77" lengthAdjust="spacingAndGlyphs" stroke="#000" stroke-width="0.1">Troposphere</text>
<text x="82.69" y="340.80" font-size="17.2" fill="#000" textLength="11.67" lengthAdjust="spacingAndGlyphs" font-weight="bold">b</text>
<text x="137.54" y="625.20" font-size="16.2" fill="#000" textLength="9.58" lengthAdjust="spacingAndGlyphs" stroke="#000" stroke-width="0.1" font-style="italic">u</text>
<text x="147.80" y="627.70" font-size="11.4" fill="#000" textLength="45.51" lengthAdjust="spacingAndGlyphs" stroke="#000" stroke-width="0.1" font-style="italic">neck, pd</text>
<text x="199.48" y="625.20" font-size="16.2" fill="#000" textLength="35.35" lengthAdjust="spacingAndGlyphs" stroke="#000" stroke-width="0.1">(m s</text>
<text x="235.90" y="619.50" font-size="11.4" fill="#000" textLength="14.80" lengthAdjust="spacingAndGlyphs" stroke="#000" stroke-width="0.1">−1</text>
<text x="252.70" y="625.20" font-size="16.2" fill="#000" textLength="4.96" lengthAdjust="spacingAndGlyphs" stroke="#000" stroke-width="0.1">)</text>
<path d="M337.90000000000003,370.8V577.1M332.1,370.8h11.6M332.1,577.1h11.6" stroke="#f7bfcc" stroke-width="2" fill="none"/>
<path d="M326.1,431.3V508.2M320.3,431.3h11.6M320.3,508.2h11.6" stroke="#2e8b1f" stroke-width="2.0" fill="none"/>
<circle cx="326.1" cy="470.9" r="5.4" fill="#2e8b1f" stroke="#000" stroke-width="1.1"/>
<circle cx="337.90000000000003" cy="472.3" r="5.4" fill="#ff1e0a" stroke="#000" stroke-width="1.1"/>
<text x="-563.30" y="0" font-size="16.6" fill="#000" textLength="189.62" lengthAdjust="spacingAndGlyphs" stroke="#000" stroke-width="0.1" transform="translate(13.30,0) rotate(-90)">Tropospheric zonal wind</text>
<text x="-532.66" y="0" font-size="16.6" fill="#000" textLength="111.11" lengthAdjust="spacingAndGlyphs" stroke="#000" stroke-width="0.1" transform="translate(34.60,0) rotate(-90)">response (m s</text>
<text x="-420.40" y="0" font-size="11.6" fill="#000" textLength="15.56" lengthAdjust="spacingAndGlyphs" stroke="#000" stroke-width="0.1" transform="translate(28.50,0) rotate(-90)">−1</text>
<text x="-404.80" y="0" font-size="16.6" fill="#000" textLength="8.41" lengthAdjust="spacingAndGlyphs" stroke="#000" stroke-width="0.1" transform="translate(34.60,0) rotate(-90)">)</text>
<clipPath id="clipc"><rect x="420.0" y="345.6" width="234.20000000000005" height="242.69999999999993"/></clipPath>
<g clip-path="url(#clipc)">
<polygon points="419.00,356.94 420.98,358.58 422.97,360.21 424.95,361.84 426.94,363.47 428.92,365.09 430.91,366.70 432.89,368.31 434.88,369.92 436.86,371.52 438.85,373.11 440.83,374.70 442.82,376.29 444.80,377.86 446.79,379.43 448.77,381.00 450.76,382.55 452.74,384.10 454.73,385.64 456.71,387.18 458.70,388.70 460.68,390.22 462.67,391.73 464.65,393.23 466.64,394.72 468.62,396.19 470.61,397.66 472.59,399.12 474.58,400.56 476.56,401.99 478.55,403.41 480.53,404.82 482.52,406.21 484.50,407.58 486.49,408.94 488.47,410.29 490.46,411.61 492.44,412.92 494.43,414.21 496.41,415.48 498.39,416.73 500.38,417.96 502.36,419.16 504.35,420.34 506.33,421.50 508.32,422.63 510.30,423.74 512.29,424.81 514.27,425.86 516.26,426.89 518.24,427.88 520.23,428.83 522.21,429.76 524.20,430.66 526.18,431.52 528.17,432.34 530.15,433.13 532.14,433.89 534.12,434.61 536.11,435.29 538.09,435.93 540.08,436.54 542.06,437.12 544.05,437.65 546.03,438.15 548.02,438.61 550.00,439.04 551.99,439.43 553.97,439.78 555.96,440.11 557.94,440.39 559.93,440.65 561.91,440.87 563.90,441.06 565.88,441.23 567.87,441.36 569.85,441.46 571.84,441.54 573.82,441.59 575.81,441.62 577.79,441.62 579.77,441.60 581.76,441.56 583.74,441.49 585.73,441.41 587.71,441.30 589.70,441.18 591.68,441.04 593.67,440.88 595.65,440.70 597.64,440.51 599.62,440.31 601.61,440.09 603.59,439.86 605.58,439.61 607.56,439.35 609.55,439.08 611.53,438.80 613.52,438.51 615.50,438.21 617.49,437.90 619.47,437.57 621.46,437.24 623.44,436.91 625.43,436.56 627.41,436.20 629.40,435.84 631.38,435.47 633.37,435.10 635.35,434.71 637.34,434.32 639.32,433.93 641.31,433.53 643.29,433.12 645.28,432.71 647.26,432.29 649.25,431.86 651.23,431.44 653.22,431.00 655.20,430.57 655.20,576.04 653.22,574.23 651.23,572.43 649.25,570.65 647.26,568.88 645.28,567.13 643.29,565.39 641.31,563.67 639.32,561.97 637.34,560.29 635.35,558.62 633.37,556.97 631.38,555.34 629.40,553.73 627.41,552.14 625.43,550.57 623.44,549.02 621.46,547.49 619.47,545.99 617.49,544.50 615.50,543.04 613.52,541.61 611.53,540.20 609.55,538.81 607.56,537.45 605.58,536.11 603.59,534.81 601.61,533.53 599.62,532.27 597.64,531.05 595.65,529.86 593.67,528.69 591.68,527.56 589.70,526.45 587.71,525.38 585.73,524.34 583.74,523.33 581.76,522.36 579.77,521.41 577.79,520.50 575.81,519.62 573.82,518.77 571.84,517.96 569.85,517.18 567.87,516.43 565.88,515.71 563.90,515.02 561.91,514.37 559.93,513.75 557.94,513.16 555.96,512.60 553.97,512.07 551.99,511.57 550.00,511.09 548.02,510.65 546.03,510.23 544.05,509.84 542.06,509.48 540.08,509.15 538.09,508.84 536.11,508.55 534.12,508.29 532.14,508.05 530.15,507.83 528.17,507.64 526.18,507.47 524.20,507.32 522.21,507.19 520.23,507.08 518.24,506.99 516.26,506.92 514.27,506.87 512.29,506.83 510.30,506.82 508.32,506.82 506.33,506.84 504.35,506.87 502.36,506.92 500.38,506.99 498.39,507.07 496.41,507.16 494.43,507.27 492.44,507.40 490.46,507.54 488.47,507.69 486.49,507.85 484.50,508.03 482.52,508.23 480.53,508.43 478.55,508.65 476.56,508.88 474.58,509.12 472.59,509.37 470.61,509.64 468.62,509.91 466.64,510.20 464.65,510.50 462.67,510.81 460.68,511.13 458.70,511.46 456.71,511.80 454.73,512.16 452.74,512.52 450.76,512.89 448.77,513.27 446.79,513.67 444.80,514.07 442.82,514.48 440.83,514.90 438.85,515.34 436.86,515.78 434.88,516.23 432.89,516.69 430.91,517.16 428.92,517.63 426.94,518.12 424.95,518.62 422.97,519.12 420.98,519.64 419.00,520.16" fill="#e7e8e8" stroke="#dcdddd" stroke-width="0.6"/>
<polygon points="419.00,409.32 420.98,410.26 422.97,411.20 424.95,412.14 426.94,413.08 428.92,414.02 430.91,414.95 432.89,415.89 434.88,416.82 436.86,417.75 438.85,418.68 440.83,419.61 442.82,420.54 444.80,421.46 446.79,422.39 448.77,423.31 450.76,424.23 452.74,425.15 454.73,426.06 456.71,426.98 458.70,427.89 460.68,428.80 462.67,429.70 464.65,430.61 466.64,431.51 468.62,432.40 470.61,433.30 472.59,434.19 474.58,435.08 476.56,435.96 478.55,436.84 480.53,437.72 482.52,438.59 484.50,439.46 486.49,440.32 488.47,441.18 490.46,442.03 492.44,442.88 494.43,443.72 496.41,444.56 498.39,445.39 500.38,446.21 502.36,447.03 504.35,447.83 506.33,448.63 508.32,449.43 510.30,450.21 512.29,450.98 514.27,451.75 516.26,452.50 518.24,453.24 520.23,453.97 522.21,454.70 524.20,455.40 526.18,456.10 528.17,456.78 530.15,457.45 532.14,458.11 534.12,458.75 536.11,459.38 538.09,459.99 540.08,460.59 542.06,461.18 544.05,461.75 546.03,462.30 548.02,462.84 550.00,463.36 551.99,463.87 553.97,464.36 555.96,464.84 557.94,465.30 559.93,465.75 561.91,466.19 563.90,466.61 565.88,467.02 567.87,467.42 569.85,467.80 571.84,468.17 573.82,468.53 575.81,468.89 577.79,469.23 579.77,469.56 581.76,469.88 583.74,470.19 585.73,470.49 587.71,470.78 589.70,471.07 591.68,471.35 593.67,471.62 595.65,471.89 597.64,472.15 599.62,472.40 601.61,472.65 603.59,472.89 605.58,473.13 607.56,473.36 609.55,473.59 611.53,473.81 613.52,474.03 615.50,474.25 617.49,474.46 619.47,474.67 621.46,474.87 623.44,475.07 625.43,475.27 627.41,475.47 629.40,475.66 631.38,475.85 633.37,476.04 635.35,476.23 637.34,476.41 639.32,476.59 641.31,476.77 643.29,476.95 645.28,477.12 647.26,477.29 649.25,477.47 651.23,477.64 653.22,477.81 655.20,477.97 655.20,531.22 653.22,530.29 651.23,529.36 649.25,528.43 647.26,527.51 645.28,526.58 643.29,525.66 641.31,524.74 639.32,523.82 637.34,522.91 635.35,521.99 633.37,521.08 631.38,520.17 629.40,519.26 627.41,518.36 625.43,517.46 623.44,516.56 621.46,515.66 619.47,514.77 617.49,513.88 615.50,512.99 613.52,512.11 611.53,511.23 609.55,510.36 607.56,509.49 605.58,508.62 603.59,507.76 601.61,506.91 599.62,506.06 597.64,505.22 595.65,504.38 593.67,503.55 591.68,502.72 589.70,501.90 587.71,501.09 585.73,500.29 583.74,499.49 581.76,498.71 579.77,497.93 577.79,497.16 575.81,496.41 573.82,495.66 571.84,494.92 569.85,494.20 567.87,493.48 565.88,492.78 563.90,492.09 561.91,491.42 559.93,490.76 557.94,490.11 555.96,489.47 553.97,488.86 551.99,488.25 550.00,487.66 548.02,487.09 546.03,486.53 544.05,485.98 542.06,485.45 540.08,484.94 538.09,484.44 536.11,483.96 534.12,483.49 532.14,483.03 530.15,482.59 528.17,482.16 526.18,481.75 524.20,481.35 522.21,480.96 520.23,480.58 518.24,480.22 516.26,479.86 514.27,479.52 512.29,479.19 510.30,478.86 508.32,478.55 506.33,478.24 504.35,477.94 502.36,477.65 500.38,477.37 498.39,477.09 496.41,476.83 494.43,476.56 492.44,476.31 490.46,476.06 488.47,475.81 486.49,475.58 484.50,475.34 482.52,475.11 480.53,474.89 478.55,474.66 476.56,474.45 474.58,474.23 472.59,474.03 470.61,473.82 468.62,473.62 466.64,473.42 464.65,473.22 462.67,473.03 460.68,472.83 458.70,472.65 456.71,472.46 454.73,472.28 452.74,472.09 450.76,471.91 448.77,471.74 446.79,471.56 444.80,471.39 442.82,471.21 440.83,471.04 438.85,470.87 436.86,470.71 434.88,470.54 432.89,470.37 430.91,470.21 428.92,470.05 426.94,469.89 424.95,469.73 422.97,469.57 420.98,469.41 419.00,469.26" fill="#c9c9c9"/>
<rect x="529.60" y="345.6" width="19.5" height="242.69999999999993" fill="rgba(60,170,60,0.25)"/>
<line x1="539.30" y1="345.6" x2="539.30" y2="588.3" stroke="#3c9a34" stroke-width="1.5" stroke-dasharray="4 2.1"/>
<line x1="420.0" y1="472.5" x2="654.2" y2="472.5" stroke="#3c9a34" stroke-width="1.7" stroke-dasharray="4 2.1"/>
<line x1="420.0" y1="433.7" x2="654.2" y2="433.7" stroke="#78b86c" stroke-width="1.1" stroke-dasharray="1.9 1.1"/>
<line x1="420.0" y1="509.4" x2="654.2" y2="509.4" stroke="#78b86c" stroke-width="1.1" stroke-dasharray="1.9 1.1"/>
<path d="M568.60,383.20V559.00M565.10,383.20h7M565.10,559.00h7" stroke="rgba(240,165,186,0.47)" stroke-width="1.2" fill="none"/>
<path d="M631.20,464.00V566.60M627.70,464.00h7M627.70,566.60h7" stroke="rgba(240,165,186,0.47)" stroke-width="1.2" fill="none"/>
<path d="M555.50,414.60V511.00M552.00,414.60h7M552.00,511.00h7" stroke="rgba(240,165,186,0.47)" stroke-width="1.2" fill="none"/>
<path d="M541.80,431.60V561.60M538.30,431.60h7M538.30,561.60h7" stroke="rgba(240,165,186,0.47)" stroke-width="1.2" fill="none"/>
<path d="M481.60,454.30V531.90M478.10,454.30h7M478.10,531.90h7" stroke="rgba(240,165,186,0.47)" stroke-width="1.2" fill="none"/>
<path d="M430.40,375.30V475.30M426.90,375.30h7M426.90,475.30h7" stroke="rgba(240,165,186,0.47)" stroke-width="1.2" fill="none"/>
<path d="M520.60,444.60V567.60M517.10,444.60h7M517.10,567.60h7" stroke="rgba(240,165,186,0.47)" stroke-width="1.2" fill="none"/>
<path d="M512.20,381.10V507.10M508.70,381.10h7M508.70,507.10h7" stroke="rgba(240,165,186,0.47)" stroke-width="1.2" fill="none"/>
<path d="M605.70,477.60V576.60M602.20,477.60h7M602.20,576.60h7" stroke="rgba(240,165,186,0.47)" stroke-width="1.2" fill="none"/>
<path d="M559.40,404.30V534.10M555.90,404.30h7M555.90,534.10h7" stroke="rgba(240,165,186,0.47)" stroke-width="1.2" fill="none"/>
<path d="M492.10,398.40V510.00M488.60,398.40h7M488.60,510.00h7" stroke="rgba(240,165,186,0.47)" stroke-width="1.2" fill="none"/>
<path d="M576.10,402.30V507.30M572.60,402.30h7M572.60,507.30h7" stroke="rgba(240,165,186,0.47)" stroke-width="1.2" fill="none"/>
<path d="M568.40,389.30V478.70M564.90,389.30h7M564.90,478.70h7" stroke="rgba(240,165,186,0.47)" stroke-width="1.2" fill="none"/>
<path d="M643.20,461.50V528.70M639.70,461.50h7M639.70,528.70h7" stroke="rgba(240,165,186,0.47)" stroke-width="1.2" fill="none"/>
<path d="M497.90,427.80V503.80M494.40,427.80h7M494.40,503.80h7" stroke="rgba(240,165,186,0.47)" stroke-width="1.2" fill="none"/>
<line x1="420.00" y1="439.57" x2="654.20" y2="504.32" stroke="#000" stroke-width="2"/>
<circle cx="568.60" cy="471.10" r="3.5" fill="rgba(255,10,10,0.7)" stroke="rgba(255,10,10,0.7)" stroke-width="1"/>
<circle cx="631.20" cy="515.30" r="3.5" fill="rgba(255,10,10,0.7)" stroke="rgba(255,10,10,0.7)" stroke-width="1"/>
<circle cx="555.50" cy="462.80" r="3.5" fill="rgba(255,10,10,0.7)" stroke="rgba(255,10,10,0.7)" stroke-width="1"/>
<circle cx="541.80" cy="496.60" r="3.5" fill="rgba(255,10,10,0.7)" stroke="rgba(255,10,10,0.7)" stroke-width="1"/>
<circle cx="481.60" cy="493.10" r="3.5" fill="rgba(255,10,10,0.7)" stroke="rgba(255,10,10,0.7)" stroke-width="1"/>
<circle cx="430.40" cy="425.30" r="3.5" fill="rgba(255,10,10,0.7)" stroke="rgba(255,10,10,0.7)" stroke-width="1"/>
<circle cx="520.60" cy="506.10" r="3.5" fill="rgba(255,10,10,0.7)" stroke="rgba(255,10,10,0.7)" stroke-width="1"/>
<circle cx="512.20" cy="444.10" r="3.5" fill="rgba(255,10,10,0.7)" stroke="rgba(255,10,10,0.7)" stroke-width="1"/>
<circle cx="605.70" cy="527.10" r="3.5" fill="rgba(255,10,10,0.7)" stroke="rgba(255,10,10,0.7)" stroke-width="1"/>
<circle cx="559.40" cy="469.20" r="3.5" fill="rgba(255,10,10,0.7)" stroke="rgba(255,10,10,0.7)" stroke-width="1"/>
<circle cx="492.10" cy="454.20" r="3.5" fill="rgba(255,10,10,0.7)" stroke="rgba(255,10,10,0.7)" stroke-width="1"/>
<circle cx="576.10" cy="454.80" r="3.5" fill="rgba(255,10,10,0.7)" stroke="rgba(255,10,10,0.7)" stroke-width="1"/>
<circle cx="568.40" cy="434.00" r="3.5" fill="rgba(255,10,10,0.7)" stroke="rgba(255,10,10,0.7)" stroke-width="1"/>
<circle cx="643.20" cy="495.10" r="3.5" fill="rgba(255,10,10,0.7)" stroke="rgba(255,10,10,0.7)" stroke-width="1"/>
<circle cx="497.90" cy="465.80" r="3.5" fill="rgba(255,10,10,0.7)" stroke="rgba(255,10,10,0.7)" stroke-width="1"/>
<text x="566.40" y="464.70" font-size="11.9" fill="#000" textLength="7.95" lengthAdjust="spacingAndGlyphs" stroke="#000" stroke-width="0.1">1</text>
<text x="630.20" y="508.90" font-size="11.9" fill="#000" textLength="6.62" lengthAdjust="spacingAndGlyphs" stroke="#000" stroke-width="0.1">2</text>
<text x="553.30" y="456.40" font-size="11.9" fill="#000" textLength="7.95" lengthAdjust="spacingAndGlyphs" stroke="#000" stroke-width="0.1">3</text>
<text x="540.80" y="490.20" font-size="11.9" fill="#000" textLength="5.68" lengthAdjust="spacingAndGlyphs" stroke="#000" stroke-width="0.1">4</text>
<text x="479.40" y="486.70" font-size="11.9" fill="#000" textLength="7.95" lengthAdjust="spacingAndGlyphs" stroke="#000" stroke-width="0.1">5</text>
<text x="429.40" y="418.90" font-size="11.9" fill="#000" textLength="6.62" lengthAdjust="spacingAndGlyphs" stroke="#000" stroke-width="0.1">6</text>
<text x="519.60" y="499.70" font-size="11.9" fill="#000" textLength="6.62" lengthAdjust="spacingAndGlyphs" stroke="#000" stroke-width="0.1">7</text>
<text x="511.20" y="437.70" font-size="11.9" fill="#000" textLength="6.62" lengthAdjust="spacingAndGlyphs" stroke="#000" stroke-width="0.1">8</text>
<text x="604.70" y="520.70" font-size="11.9" fill="#000" textLength="6.62" lengthAdjust="spacingAndGlyphs" stroke="#000" stroke-width="0.1">9</text>
<text x="557.32" y="462.80" font-size="11.9" fill="#000" textLength="14.34" lengthAdjust="spacingAndGlyphs" stroke="#000" stroke-width="0.1">10</text>
<text x="489.92" y="447.80" font-size="11.9" fill="#000" textLength="14.59" lengthAdjust="spacingAndGlyphs" stroke="#000" stroke-width="0.1">11</text>
<text x="574.02" y="448.40" font-size="11.9" fill="#000" textLength="14.34" lengthAdjust="spacingAndGlyphs" stroke="#000" stroke-width="0.1">12</text>
<text x="566.32" y="427.60" font-size="11.9" fill="#000" textLength="14.34" lengthAdjust="spacingAndGlyphs" stroke="#000" stroke-width="0.1">13</text>
<text x="641.12" y="488.70" font-size="11.9" fill="#000" textLength="14.34" lengthAdjust="spacingAndGlyphs" stroke="#000" stroke-width="0.1">14</text>
<text x="495.82" y="459.40" font-size="11.9" fill="#000" textLength="14.34" lengthAdjust="spacingAndGlyphs" stroke="#000" stroke-width="0.1">15</text>
</g>
<text x="423.48" y="581.30" font-size="12.3" fill="#000" textLength="93.92" lengthAdjust="spacingAndGlyphs" stroke="#000" stroke-width="0.1">r=-0.53, p=0.02</text>
<path d="M425.78,588.3v-2.0M434.99,588.3v-2.0M444.20,588.3v-3.5M453.41,588.3v-2.0M462.62,588.3v-2.0M471.83,588.3v-2.0M481.04,588.3v-3.5M490.25,588.3v-2.0M499.46,588.3v-2.0M508.67,588.3v-2.0M517.88,588.3v-3.5M527.09,588.3v-2.0M536.30,588.3v-2.0M545.51,588.3v-2.0M554.72,588.3v-3.5M563.93,588.3v-2.0M573.14,588.3v-2.0M582.35,588.3v-2.0M591.56,588.3v-3.5M600.77,588.3v-2.0M609.98,588.3v-2.0M619.19,588.3v-2.0M628.40,588.3v-3.5M637.61,588.3v-2.0M646.82,588.3v-2.0M420.0,583.47h2.0M420.0,574.91h2.0M420.0,566.36h2.0M420.0,557.80h3.5M420.0,549.25h2.0M420.0,540.69h2.0M420.0,532.13h2.0M420.0,523.58h3.5M420.0,515.02h2.0M420.0,506.47h2.0M420.0,497.91h2.0M420.0,489.36h3.5M420.0,480.81h2.0M420.0,472.25h2.0M420.0,463.69h2.0M420.0,455.14h3.5M420.0,446.58h2.0M420.0,438.03h2.0M420.0,429.47h2.0M420.0,420.92h3.5M420.0,412.37h2.0M420.0,403.81h2.0M420.0,395.25h2.0M420.0,386.70h3.5M420.0,378.14h2.0M420.0,369.59h2.0M420.0,361.03h2.0M420.0,352.48h3.5" stroke="#000" stroke-width="0.9" fill="none"/>
<rect x="420.0" y="345.6" width="234.20000000000005" height="242.69999999999993" fill="none" stroke="#1a1a1a" stroke-width="1.05"/>
<text x="435.36" y="603.30" font-size="14.6" fill="#000" textLength="16.88" lengthAdjust="spacingAndGlyphs" stroke="#000" stroke-width="0.1">12</text>
<text x="472.20" y="603.30" font-size="14.6" fill="#000" textLength="16.88" lengthAdjust="spacingAndGlyphs" stroke="#000" stroke-width="0.1">14</text>
<text x="509.04" y="603.30" font-size="14.6" fill="#000" textLength="16.88" lengthAdjust="spacingAndGlyphs" stroke="#000" stroke-width="0.1">16</text>
<text x="545.88" y="603.30" font-size="14.6" fill="#000" textLength="16.88" lengthAdjust="spacingAndGlyphs" stroke="#000" stroke-width="0.1">18</text>
<text x="582.72" y="603.30" font-size="14.6" fill="#000" textLength="16.88" lengthAdjust="spacingAndGlyphs" stroke="#000" stroke-width="0.1">20</text>
<text x="619.56" y="603.30" font-size="14.6" fill="#000" textLength="16.88" lengthAdjust="spacingAndGlyphs" stroke="#000" stroke-width="0.1">22</text>
<text x="382.17" y="563.50" font-size="14.6" fill="#000" textLength="32.52" lengthAdjust="spacingAndGlyphs" stroke="#000" stroke-width="0.1">−1.0</text>
<text x="382.13" y="529.28" font-size="14.6" fill="#000" textLength="33.72" lengthAdjust="spacingAndGlyphs" stroke="#000" stroke-width="0.1">−0.8</text>
<text x="382.13" y="495.06" font-size="14.6" fill="#000" textLength="33.72" lengthAdjust="spacingAndGlyphs" stroke="#000" stroke-width="0.1">−0.6</text>
<text x="382.17" y="460.84" font-size="14.6" fill="#000" textLength="32.52" lengthAdjust="spacingAndGlyphs" stroke="#000" stroke-width="0.1">−0.4</text>
<text x="382.13" y="426.62" font-size="14.6" fill="#000" textLength="33.72" lengthAdjust="spacingAndGlyphs" stroke="#000" stroke-width="0.1">−0.2</text>
<text x="394.20" y="392.40" font-size="14.6" fill="#000" textLength="21.01" lengthAdjust="spacingAndGlyphs" stroke="#000" stroke-width="0.1">0.0</text>
<text x="394.20" y="358.18" font-size="14.6" fill="#000" textLength="21.01" lengthAdjust="spacingAndGlyphs" stroke="#000" stroke-width="0.1">0.2</text>
<text x="492.53" y="338.90" font-size="14.2" fill="#000" textLength="89.30" lengthAdjust="spacingAndGlyphs" stroke="#000" stroke-width="0.1">Near Surface</text>
<text x="421.86" y="341.00" font-size="17.2" fill="#000" textLength="9.92" lengthAdjust="spacingAndGlyphs" font-weight="bold">c</text>
<text x="477.04" y="625.20" font-size="16.2" fill="#000" textLength="9.58" lengthAdjust="spacingAndGlyphs" stroke="#000" stroke-width="0.1" font-style="italic">u</text>
<text x="487.30" y="627.70" font-size="11.4" fill="#000" textLength="45.51" lengthAdjust="spacingAndGlyphs" stroke="#000" stroke-width="0.1" font-style="italic">neck, pd</text>
<text x="538.98" y="625.20" font-size="16.2" fill="#000" textLength="35.35" lengthAdjust="spacingAndGlyphs" stroke="#000" stroke-width="0.1">(m s</text>
<text x="575.40" y="619.50" font-size="11.4" fill="#000" textLength="14.80" lengthAdjust="spacingAndGlyphs" stroke="#000" stroke-width="0.1">−1</text>
<text x="592.20" y="625.20" font-size="16.2" fill="#000" textLength="4.96" lengthAdjust="spacingAndGlyphs" stroke="#000" stroke-width="0.1">)</text>
<path d="M677.8000000000001,376.0V576.4M672.0000000000001,376.0h11.6M672.0000000000001,576.4h11.6" stroke="#f7bfcc" stroke-width="2" fill="none"/>
<path d="M666.0,433.7V509.4M660.2,433.7h11.6M660.2,509.4h11.6" stroke="#2e8b1f" stroke-width="2.0" fill="none"/>
<circle cx="666.0" cy="472.8" r="5.4" fill="#2e8b1f" stroke="#000" stroke-width="1.1"/>
<circle cx="677.8000000000001" cy="474.3" r="5.4" fill="#ff1e0a" stroke="#000" stroke-width="1.1"/>
<text x="-510.00" y="0" font-size="16.6" fill="#000" textLength="86.12" lengthAdjust="spacingAndGlyphs" stroke="#000" stroke-width="0.1" transform="translate(373.30,0) rotate(-90)">Jet shift (°)</text>
<text x="-251.40" y="0" font-size="11.6" fill="#2e8b1f" textLength="68.36" lengthAdjust="spacingAndGlyphs" stroke="#2e8b1f" stroke-width="0.1" transform="translate(330.30,0) rotate(-90)">Constrained</text>
<text x="-330.22" y="0" font-size="11.6" fill="#ff1e0a" textLength="83.68" lengthAdjust="spacingAndGlyphs" stroke="#ff1e0a" stroke-width="0.1" transform="translate(342.40,0) rotate(-90)">Unconstrained</text>
<text x="454.6" y="66.90" font-size="11.9" textLength="7.06" lengthAdjust="spacingAndGlyphs" stroke="#000" stroke-width="0.1">1</text>
<text x="465.80" y="66.90" font-size="11.9" fill="#000" textLength="88.08" lengthAdjust="spacingAndGlyphs" stroke="#000" stroke-width="0.1">AWI-CM-1-1-MR</text>
<text x="454.6" y="79.00" font-size="11.9" textLength="7.06" lengthAdjust="spacingAndGlyphs" stroke="#000" stroke-width="0.1">2</text>
<text x="465.80" y="79.00" font-size="11.9" fill="#000" textLength="53.50" lengthAdjust="spacingAndGlyphs" stroke="#000" stroke-width="0.1">CanESM5</text>
<text x="454.6" y="91.10" font-size="11.9" textLength="7.06" lengthAdjust="spacingAndGlyphs" stroke="#000" stroke-width="0.1">3</text>
<text x="465.80" y="91.10" font-size="11.9" fill="#000" textLength="107.36" lengthAdjust="spacingAndGlyphs" stroke="#000" stroke-width="0.1">CESM1-WACCM-SC</text>
<text x="454.6" y="103.20" font-size="11.9" textLength="7.06" lengthAdjust="spacingAndGlyphs" stroke="#000" stroke-width="0.1">4</text>
<text x="465.80" y="103.20" font-size="11.9" fill="#000" textLength="38.97" lengthAdjust="spacingAndGlyphs" stroke="#000" stroke-width="0.1">CESM2</text>
<text x="454.6" y="115.30" font-size="11.9" textLength="7.06" lengthAdjust="spacingAndGlyphs" stroke="#000" stroke-width="0.1">5</text>
<text x="465.80" y="115.30" font-size="11.9" fill="#000" textLength="74.41" lengthAdjust="spacingAndGlyphs" stroke="#000" stroke-width="0.1">CNRM-CM6-1</text>
<text x="454.6" y="127.40" font-size="11.9" textLength="7.06" lengthAdjust="spacingAndGlyphs" stroke="#000" stroke-width="0.1">6</text>
<text x="465.80" y="127.40" font-size="11.9" fill="#000" textLength="54.64" lengthAdjust="spacingAndGlyphs" stroke="#000" stroke-width="0.1">E3SM-1-0</text>
<text x="454.6" y="139.50" font-size="11.9" textLength="7.06" lengthAdjust="spacingAndGlyphs" stroke="#000" stroke-width="0.1">7</text>
<text x="465.80" y="139.50" font-size="11.9" fill="#000" textLength="57.33" lengthAdjust="spacingAndGlyphs" stroke="#000" stroke-width="0.1">EC-Earth3</text>
<text x="454.6" y="151.60" font-size="11.9" textLength="7.06" lengthAdjust="spacingAndGlyphs" stroke="#000" stroke-width="0.1">8</text>
<text x="465.80" y="151.60" font-size="11.9" fill="#000" textLength="71.78" lengthAdjust="spacingAndGlyphs" stroke="#000" stroke-width="0.1">FGOALS-f3-L</text>
<text x="454.6" y="163.70" font-size="11.9" textLength="7.06" lengthAdjust="spacingAndGlyphs" stroke="#000" stroke-width="0.1">9</text>
<text x="465.80" y="163.70" font-size="11.9" fill="#000" textLength="115.32" lengthAdjust="spacingAndGlyphs" stroke="#000" stroke-width="0.1">HadGEM3-GC31-MM</text>
<text x="454.6" y="175.80" font-size="11.9" textLength="14.12" lengthAdjust="spacingAndGlyphs" stroke="#000" stroke-width="0.1">10</text>
<text x="473.00" y="175.80" font-size="11.9" fill="#000" textLength="79.11" lengthAdjust="spacingAndGlyphs" stroke="#000" stroke-width="0.1">IPSL-CM6A-LR</text>
<text x="454.6" y="187.90" font-size="11.9" textLength="14.12" lengthAdjust="spacingAndGlyphs" stroke="#000" stroke-width="0.1">11</text>
<text x="473.00" y="187.90" font-size="11.9" fill="#000" textLength="45.14" lengthAdjust="spacingAndGlyphs" stroke="#000" stroke-width="0.1">MIROC6</text>
<text x="454.6" y="200.00" font-size="11.9" textLength="14.12" lengthAdjust="spacingAndGlyphs" stroke="#000" stroke-width="0.1">12</text>
<text x="473.00" y="200.00" font-size="11.9" fill="#000" textLength="72.44" lengthAdjust="spacingAndGlyphs" stroke="#000" stroke-width="0.1">NorESM2-LM</text>
<text x="454.6" y="212.10" font-size="11.9" textLength="14.12" lengthAdjust="spacingAndGlyphs" stroke="#000" stroke-width="0.1">13</text>
<text x="473.00" y="212.10" font-size="11.9" fill="#000" textLength="66.90" lengthAdjust="spacingAndGlyphs" stroke="#000" stroke-width="0.1">CanESM5-G</text>
<text x="454.6" y="224.20" font-size="11.9" textLength="14.12" lengthAdjust="spacingAndGlyphs" stroke="#000" stroke-width="0.1">14</text>
<text x="473.00" y="224.20" font-size="11.9" fill="#000" textLength="59.00" lengthAdjust="spacingAndGlyphs" stroke="#000" stroke-width="0.1">CESM2-G1</text>
<text x="454.6" y="236.30" font-size="11.9" textLength="14.12" lengthAdjust="spacingAndGlyphs" stroke="#000" stroke-width="0.1">15</text>
<text x="473.00" y="236.30" font-size="11.9" fill="#000" textLength="59.00" lengthAdjust="spacingAndGlyphs" stroke="#000" stroke-width="0.1">CESM2-G2</text>
</svg></body></html>
